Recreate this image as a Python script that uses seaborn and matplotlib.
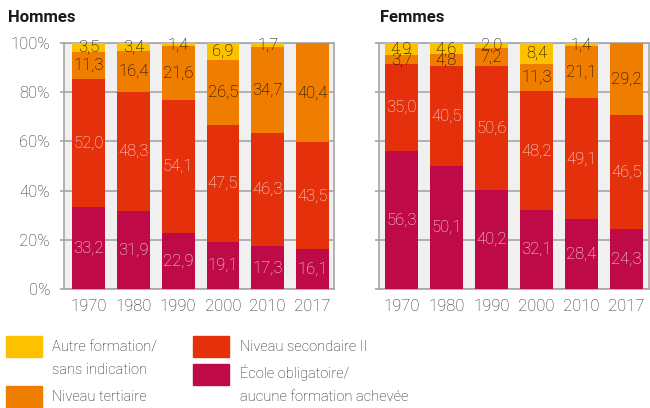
import numpy as np
import pandas as pd
import matplotlib
matplotlib.use("Agg")
import matplotlib.pyplot as plt
from matplotlib.patches import Rectangle
import seaborn as sns

years = ["1970", "1980", "1990", "2000", "2010", "2017"]

# Hommes
h_obligatoire = [33.2, 31.9, 22.9, 19.1, 17.3, 16.1]
h_secondaire = [52.0, 48.3, 54.1, 47.5, 46.3, 43.5]
h_tertiaire = [11.3, 16.4, 21.6, 26.5, 34.7, 40.4]
h_autre = [3.5, 3.4, 1.4, 6.9, 1.7, 0.0]

# Femmes
f_obligatoire = [56.3, 50.1, 40.2, 32.1, 28.4, 24.3]
f_secondaire = [35.0, 40.5, 50.6, 48.2, 49.1, 46.5]
f_tertiaire = [3.7, 4.8, 7.2, 11.3, 21.1, 29.2]
f_autre = [4.9, 4.6, 2.0, 8.4, 1.4, 0.0]

categories = ["École obligatoire", "Niveau secondaire II", "Niveau tertiaire", "Autre formation"]
colors = ["#BE0A46", "#E4310B", "#EF7D00", "#FDC100"]
text_colors = ["#fbe6ea", "#fbe6ea", "#000000", "#000000"]

sns.set_theme(style="white")
plt.rcParams["font.family"] = ["Roboto", "DejaVu Sans"]

GRID = "#a6a6a6"
BG = "#f0f0f0"
FS = 12

fig = plt.figure(figsize=(6.5, 4.08), dpi=100)
ax1 = fig.add_axes([64 / 650, 119 / 408, 270 / 650, 246 / 408])
ax2 = fig.add_axes([379 / 650, 119 / 408, 270 / 650, 246 / 408])


def fmt(v):
    return f"{v:.1f}".replace(".", ",")


def draw_panel(ax, series, show_labels, xlim):
    ax.set_facecolor(BG)
    df = pd.DataFrame({c: s for c, s in zip(categories, series)}, index=years)
    cum = df.cumsum(axis=1)
    # draw from total down so lower segments overlay upper ones
    for i in range(len(categories) - 1, -1, -1):
        d = pd.DataFrame({"year": years, "val": cum[categories[i]].values})
        sns.barplot(data=d, x="year", y="val", color=colors[i], width=0.73,
                    saturation=1, ax=ax, zorder=3, linewidth=0)
    for i, c in enumerate(categories):
        for j, y in enumerate(years):
            v = df.loc[y, c]
            if v <= 0:
                continue
            mid = cum.loc[y, c] - v / 2
            ax.text(j, mid, fmt(v), ha="center", va="center", fontsize=FS,
                    color=text_colors[i], fontweight="light", zorder=5)
    ax.set_xlim(*xlim)
    ax.set_ylim(0, 100)
    ax.set_yticks([0, 20, 40, 60, 80, 100])
    ax.yaxis.grid(True, color=GRID, linewidth=1.2, zorder=1)
    ax.set_axisbelow(True)
    for s in ax.spines.values():
        s.set_color(GRID)
        s.set_linewidth(1.2)
    ax.set_xlabel("")
    ax.set_ylabel("")
    ax.tick_params(axis="x", length=0, pad=7, labelsize=FS, labelcolor="#2a2a2a")
    ax.tick_params(axis="y", length=3, width=1.2, color=GRID, pad=7,
                   labelsize=FS, labelcolor="#2a2a2a", left=True)
    for lab in ax.get_xticklabels() + ax.get_yticklabels():
        lab.set_fontweight("light")
    if show_labels:
        ax.set_yticklabels([f"{t}%" for t in [0, 20, 40, 60, 80, 100]])
    else:
        ax.set_yticklabels([])


draw_panel(ax1, [h_obligatoire, h_secondaire, h_tertiaire, h_autre], True, (-0.55, 5.48))
draw_panel(ax2, [f_obligatoire, f_secondaire, f_tertiaire, f_autre], False, (-0.5, 5.5))

fig.text(8 / 650, 1 - 18 / 408, "Hommes", fontsize=FS, fontweight="bold",
         color="#1a1a1a", va="center", ha="left")
fig.text(380 / 650, 1 - 18 / 408, "Femmes", fontsize=FS, fontweight="bold",
         color="#1a1a1a", va="center", ha="left")

# legend
def patch(x, y, c):
    fig.patches.append(Rectangle((x / 650, 1 - (y + 21) / 408), 36 / 650, 21 / 408,
                                 transform=fig.transFigure, color=c, figure=fig))


def label(x, y, s):
    fig.text(x / 650, 1 - y / 408, s, fontsize=10.5, fontweight="light",
             color="#1a1a1a", va="center", ha="left")


patch(6, 336, colors[3])
label(52, 347, "Autre formation/")
label(52, 370, "sans indication")
patch(6, 386, colors[2])
label(52, 397, "Niveau tertiaire")
patch(193, 336, colors[1])
label(240, 347, "Niveau secondaire II")
patch(193, 364, colors[0])
label(240, 373, "École obligatoire/")
label(240, 397, "aucune formation achevée")

fig.savefig("out.png", dpi=100)
